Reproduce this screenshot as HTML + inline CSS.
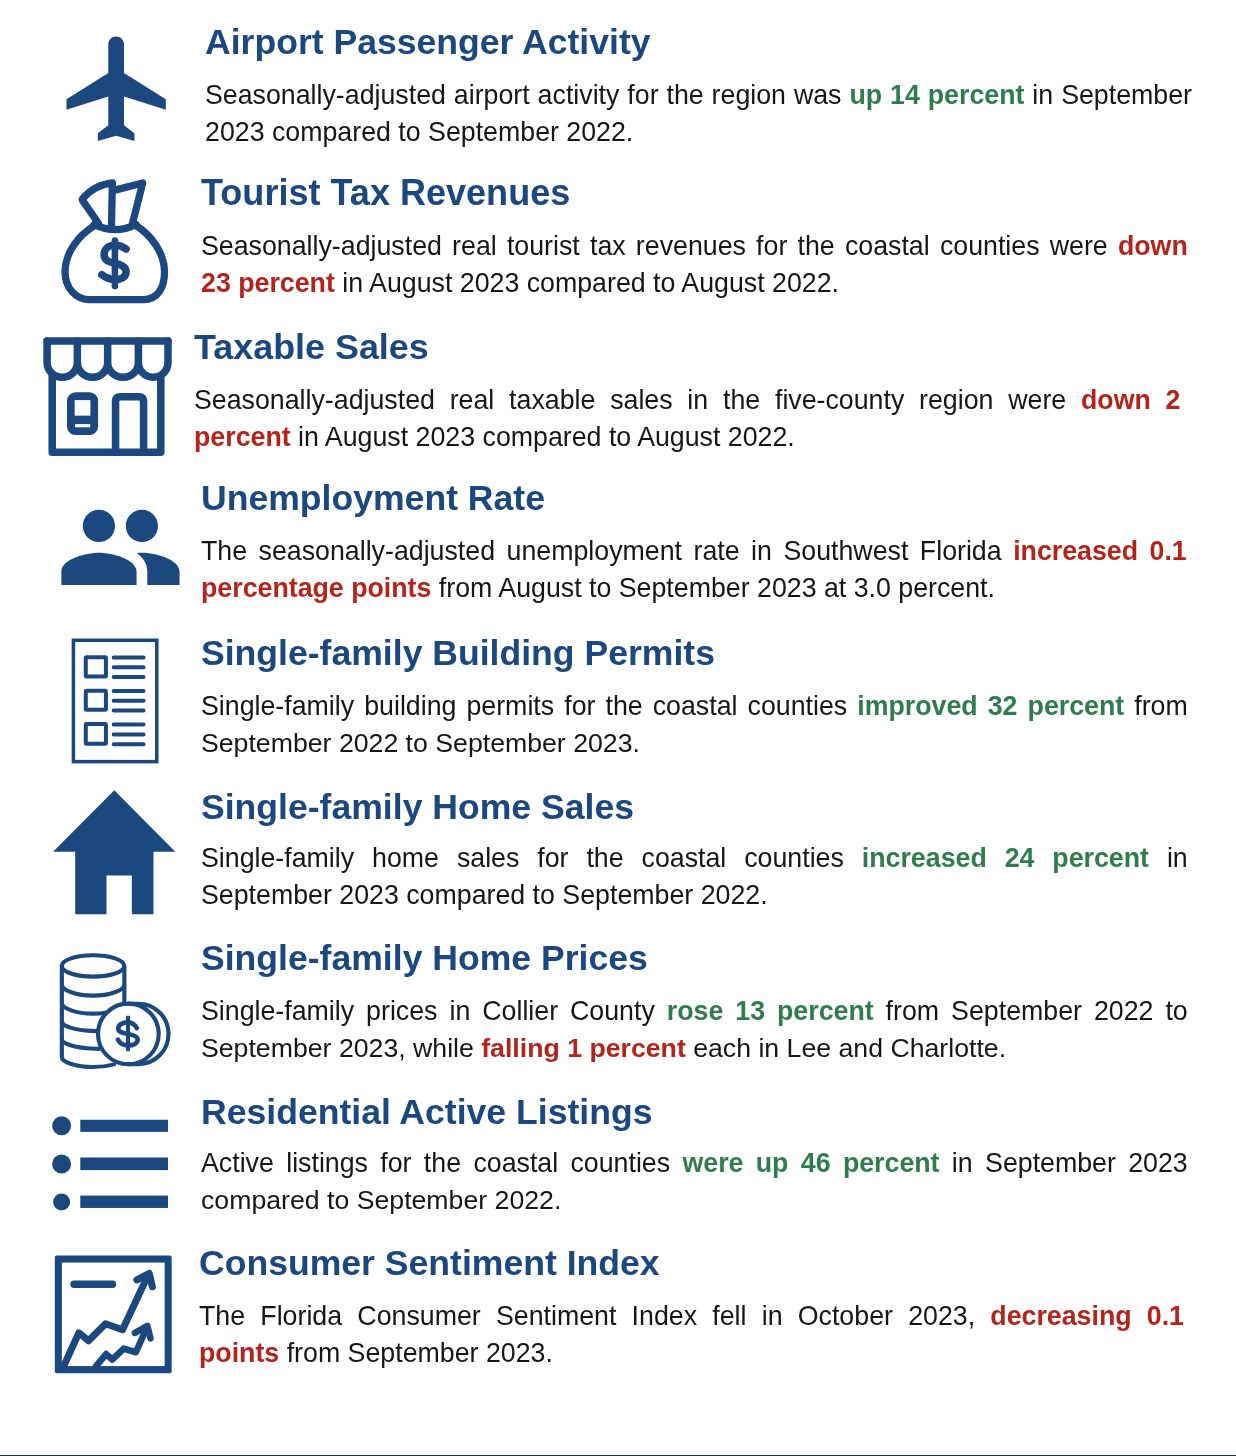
<!DOCTYPE html>
<html>
<head>
<meta charset="utf-8">
<title>Regional Economic Indicators</title>
<style>
html,body{margin:0;padding:0;background:#fff;}
body{width:1236px;height:1456px;position:relative;overflow:hidden;font-family:"Liberation Sans",sans-serif;}
.blk{position:absolute;will-change:transform;}
.h{position:absolute;left:0;top:0;white-space:nowrap;font-weight:bold;font-size:35.6px;line-height:40px;color:#1b4880;}
.l1,.l2{position:absolute;left:0;font-size:26.75px;line-height:37px;color:#161616;white-space:nowrap;}
.l1{top:55px;width:100%;text-align:justify;text-align-last:justify;white-space:normal;}
.l2{top:92px;}
.g{color:#2f7d4e;font-weight:bold;}
.r{color:#b5231b;font-weight:bold;}
.ico{position:absolute;}
.foot{position:absolute;left:0;top:1455px;width:1236px;height:1px;background:#033270;}
</style>
</head>
<body>

<!-- 1 Airport -->
<div class="blk" style="left:205px;top:22px;width:987px;">
  <div class="h">Airport Passenger Activity</div>
  <div class="l1">Seasonally-adjusted airport activity for the region was <span class="g">up 14 percent</span> in September</div>
  <div class="l2">2023 compared to September 2022.</div>
</div>

<!-- 2 Tourist -->
<div class="blk" style="left:201.25px;top:173px;width:986.75px;">
  <div class="h" style="font-size:36.05px">Tourist Tax Revenues</div>
  <div class="l1">Seasonally-adjusted real tourist tax revenues for the coastal counties were <span class="r">down</span></div>
  <div class="l2"><span class="r">23 percent</span> in August 2023 compared to August 2022.</div>
</div>

<!-- 3 Taxable -->
<div class="blk" style="left:194px;top:326.5px;width:986.5px;">
  <div class="h" style="top:-0.5px;font-size:35.9px">Taxable Sales</div>
  <div class="l1">Seasonally-adjusted real taxable sales in the five-county region were <span class="r">down 2</span></div>
  <div class="l2"><span class="r">percent</span> in August 2023 compared to August 2022.</div>
</div>

<!-- 4 Unemployment -->
<div class="blk" style="left:201.25px;top:478.25px;width:985.75px;">
  <div class="h">Unemployment Rate</div>
  <div class="l1">The seasonally-adjusted unemployment rate in Southwest Florida <span class="r">increased 0.1</span></div>
  <div class="l2"><span class="r">percentage points</span> from August to September 2023 at 3.0 percent.</div>
</div>

<!-- 5 Permits -->
<div class="blk" style="left:201.25px;top:633.25px;width:986.75px;">
  <div class="h">Single-family Building Permits</div>
  <div class="l1">Single-family building permits for the coastal counties <span class="g">improved 32 percent</span> from</div>
  <div class="l2" style="font-size:26.68px">September 2022 to September 2023.</div>
</div>

<!-- 6 Home Sales -->
<div class="blk" style="left:201.25px;top:784.75px;width:986.75px;">
  <div class="h" style="top:1.75px">Single-family Home Sales</div>
  <div class="l1">Single-family home sales for the coastal counties <span class="g">increased 24 percent</span> in</div>
  <div class="l2">September 2023 compared to September 2022.</div>
</div>

<!-- 7 Home Prices -->
<div class="blk" style="left:201.25px;top:938.25px;width:986.75px;">
  <div class="h">Single-family Home Prices</div>
  <div class="l1">Single-family prices in Collier County <span class="g">rose 13 percent</span> from September 2022 to</div>
  <div class="l2" style="font-size:26.68px">September 2023, while <span class="r">falling 1 percent</span> each in Lee and Charlotte.</div>
</div>

<!-- 8 Listings -->
<div class="blk" style="left:201.25px;top:1090px;width:986.75px;">
  <div class="h" style="top:1.75px">Residential Active Listings</div>
  <div class="l1">Active listings for the coastal counties <span class="g">were up 46 percent</span> in September 2023</div>
  <div class="l2" style="font-size:26.68px">compared to September 2022.</div>
</div>

<!-- 9 Sentiment -->
<div class="blk" style="left:199px;top:1243.25px;width:985px;">
  <div class="h">Consumer Sentiment Index</div>
  <div class="l1">The Florida Consumer Sentiment Index fell in October 2023, <span class="r">decreasing 0.1</span></div>
  <div class="l2"><span class="r">points</span> from September 2023.</div>
</div>


<!-- ICONS -->
<svg class="ico" style="left:55.96px;top:26.3px;width:125.5px;height:125.5px" viewBox="0 0 24 24"><path fill="#1b487e" d="M21 16v-2l-8-5V3.500c0-.83-.67-1.500-1.500-1.500S10 2.670 10 3.500V9l-8 5v2l8-2.500V19l-2 1.500V22l3.500-1 3.500 1v-1.500L13 19v-5.500l8 2.500z"/></svg>

<svg class="ico" style="left:45px;top:165px;width:150px;height:150px" viewBox="0 0 1236 1236" fill="none" stroke="#1b487e" stroke-width="60" stroke-linecap="round" stroke-linejoin="round">
<path d="M415 495 C270 580 165 730 165 880 C165 1010 250 1110 370 1110 L810 1110 C930 1110 985 1010 985 880 C985 730 880 580 745 495"/>
<path d="M405 490 Q580 575 750 490"/>
<path d="M440 480 L305 285 Q400 165 555 148 L548 495"/>
<path d="M585 205 L805 148 L720 485"/>
<path stroke-width="62" d="M668 692 C640 672 610 662 575 662 C520 662 487 695 487 738 C487 790 530 800 578 810 C630 822 668 840 668 880 C668 925 625 945 578 945 C530 945 495 925 468 905"/>
<path stroke-width="54" d="M576 622 L576 998"/>
</svg>

<svg class="ico" style="left:30px;top:320px;width:150px;height:150px" viewBox="0 0 1236 1236" fill="none" stroke="#1b487e" stroke-width="62" stroke-linecap="round" stroke-linejoin="round">
<path d="M141 173 L1137 173"/>
<path d="M141 173 L141 350 A124.500 122 0 0 0 390 350 L390 173 M390 350 A125 122 0 0 0 640 350 L640 173 M640 350 A126.500 122 0 0 0 893 350 L893 173 M893 350 A122 122 0 0 0 1137 350 L1137 173"/>
<path d="M183 470 L183 1090 L1078 1090 L1078 470"/>
<path d="M705 1090 L705 672 Q705 632 745 632 L896 632 Q936 632 936 672 L936 1090"/>
<rect x="336" y="627" width="194" height="290" rx="40" fill="#1b487e"/>
<rect x="368" y="660" width="130" height="128" fill="#fff" stroke="none"/>
<rect x="372" y="858" width="124" height="26" fill="#fff" stroke="none"/>
</svg>

<svg class="ico" style="left:56.26px;top:482.85px;width:128.9px;height:128.9px" viewBox="0 0 24 24"><path fill="#1b487e" d="M16 11c1.660 0 2.990-1.340 2.990-3S17.660 5 16 5c-1.660 0-3 1.340-3 3s1.340 3 3 3zm-8 0c1.660 0 2.990-1.340 2.990-3S9.660 5 8 5C6.340 5 5 6.340 5 8s1.340 3 3 3zm0 2c-2.330 0-7 1.170-7 3.500V19h14v-2.500c0-2.330-4.670-3.500-7-3.500zm8 0c-.29 0-.62.020-.97.050 1.160.84 1.970 1.970 1.970 3.450V19h6v-2.500c0-2.330-4.670-3.500-7-3.500z"/></svg>

<svg class="ico" style="left:45px;top:625px;width:150px;height:150px" viewBox="0 0 1236 1236" fill="none" stroke="#1b487e" stroke-width="33" stroke-linecap="round" stroke-linejoin="round">
<rect stroke-width="29" x="234" y="126" width="687" height="1000" stroke-linejoin="miter"/>
<rect x="336" y="266" width="166" height="158" rx="6"/>
<rect x="336" y="541" width="166" height="158" rx="6"/>
<rect x="336" y="816" width="166" height="162" rx="6"/>
<path d="M566 268 H812 M566 348 H812 M566 428 H812 M566 543 H812 M566 625 H812 M566 705 H812 M566 820 H812 M566 902 H812 M566 982 H812"/>
</svg>

<svg class="ico" style="left:40px;top:775px;width:150px;height:150px" viewBox="0 0 1236 1236"><path fill="#1b487e" d="M612 125 L1115 632 L935 632 L935 1148 L757 1148 L757 828 L548 828 L548 1148 L290 1148 L290 632 L108 632 Z"/></svg>

<svg class="ico" style="left:40px;top:935px;width:150px;height:150px" viewBox="0 0 1236 1236" fill="none" stroke="#1b487e" stroke-width="34" stroke-linecap="round" stroke-linejoin="round">
<ellipse cx="437" cy="255" rx="257" ry="88"/>
<path d="M180 255 L180 1005 C180 1050 300 1088 437 1088 C500 1088 560 1080 610 1066"/>
<path d="M695 255 L695 565"/>
<path d="M180 410 C180 455 300 500 437 500 C575 500 695 455 695 410"/>
<path d="M180 560 C180 605 300 648 437 648 C480 648 515 645 545 640"/>
<path d="M180 710 C180 750 290 785 420 790 L475 792"/>
<path d="M180 860 C180 895 290 930 420 935 L485 938"/>
<circle cx="728" cy="815" r="250" fill="#fff"/>
<path d="M725 566 L810 566 A249 249 0 0 1 810 1064 L725 1064"/>
<path stroke-width="38" d="M798 768 C780 735 755 720 725 720 C680 720 645 740 645 770 C645 800 680 808 725 815 C770 822 805 832 805 862 C805 892 770 910 725 910 C690 910 660 895 642 862"/>
<path stroke-width="34" d="M725 680 L725 943"/>
</svg>

<svg class="ico" style="left:40px;top:1090px;width:150px;height:150px" viewBox="0 0 1236 1236" fill="#1b487e">
<ellipse cx="178" cy="295" rx="78" ry="78"/><ellipse cx="178" cy="610" rx="78" ry="78"/><ellipse cx="178" cy="922" rx="70" ry="70"/>
<rect x="332" y="245" width="723" height="100"/><rect x="332" y="556" width="723" height="104"/><rect x="332" y="870" width="723" height="102"/>
</svg>

<svg class="ico" style="left:40px;top:1240px;width:150px;height:150px" viewBox="0 0 1236 1236" fill="none" stroke="#1b487e" stroke-width="58" stroke-linecap="round" stroke-linejoin="round">
<rect x="122" y="128" width="963" height="969" rx="16" fill="#1b487e" stroke="none"/><rect x="180" y="186" width="847" height="853" fill="#fff" stroke="none"/>
<path stroke-width="62" d="M281 365 L597 365"/>
<path d="M195 1040 L320 765 L400 830 L540 690 L680 740 L885 300"/>
<path d="M798 328 L900 275 L926 385"/>
<path stroke-width="54" d="M462 1040 L545 940 L595 985 L690 895 L790 925 L870 745"/>
<path stroke-width="54" d="M782 765 L885 708 L910 810"/>
</svg>

<div class="foot"></div>
</body>
</html>
